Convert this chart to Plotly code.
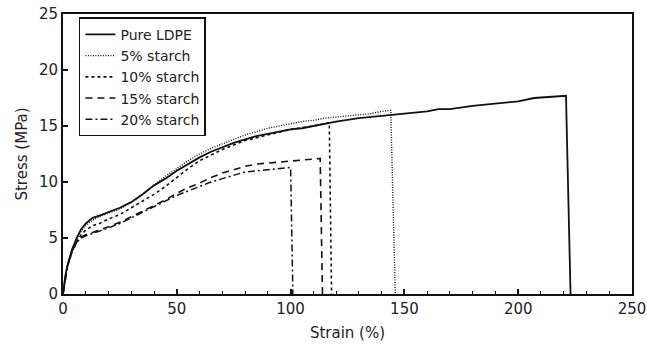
import plotly.graph_objects as go

# Pure LDPE
ldpe_x = [0, 1, 2, 4, 6, 8, 10, 13, 16, 20, 25, 30, 35, 40, 45, 50, 55, 60, 65, 70, 75, 80, 85, 90,
          95, 100, 105, 110, 115, 120, 130, 140, 150, 160, 165, 170, 180, 190, 200, 207, 214, 221, 223]
ldpe_y = [0, 1.6, 2.6, 4.0, 5.0, 5.8, 6.3, 6.8, 7.0, 7.3, 7.7, 8.2, 8.9, 9.7, 10.3, 11.0, 11.6, 12.2,
          12.7, 13.1, 13.5, 13.8, 14.1, 14.3, 14.5, 14.7, 14.8, 15.0, 15.2, 15.4, 15.7, 15.9, 16.1,
          16.3, 16.5, 16.5, 16.8, 17.0, 17.2, 17.5, 17.6, 17.7, 0]

# 5% starch
s5_x = [0, 1, 2, 4, 6, 8, 10, 13, 16, 20, 25, 30, 35, 40, 45, 50, 55, 60, 65, 70, 75, 80, 85, 90,
        95, 100, 105, 110, 115, 120, 125, 130, 135, 140, 144, 146]
s5_y = [0, 1.6, 2.6, 4.0, 4.9, 5.6, 6.1, 6.6, 6.9, 7.2, 7.6, 8.2, 8.9, 9.7, 10.5, 11.2, 11.9, 12.5,
        13.0, 13.4, 13.8, 14.2, 14.5, 14.8, 15.0, 15.2, 15.4, 15.5, 15.7, 15.8, 15.9, 16.0, 16.1,
        16.3, 16.4, 0]

# 10% starch
s10_x = [0, 1, 2, 4, 6, 8, 10, 13, 16, 20, 25, 30, 35, 40, 45, 50, 55, 60, 70, 80, 90, 100, 110, 117, 118]
s10_y = [0, 1.5, 2.5, 3.8, 4.7, 5.3, 5.7, 6.1, 6.3, 6.7, 7.1, 7.7, 8.3, 8.9, 9.6, 10.4, 11.2, 11.9,
         12.9, 13.7, 14.2, 14.7, 15.0, 15.3, 0]

# 15% starch
s15_x = [0, 1, 2, 4, 6, 8, 10, 13, 16, 20, 25, 30, 35, 40, 45, 50, 55, 60, 65, 70, 75, 80, 85, 90,
         95, 100, 105, 110, 113, 114]
s15_y = [0, 1.5, 2.5, 3.8, 4.6, 5.1, 5.3, 5.5, 5.7, 6.0, 6.4, 6.9, 7.4, 7.9, 8.4, 9.0, 9.5, 9.9,
         10.4, 10.8, 11.1, 11.4, 11.6, 11.7, 11.8, 11.9, 12.0, 12.1, 12.1, 0]

# 20% starch
s20_x = [0, 1, 2, 4, 6, 8, 10, 13, 16, 20, 25, 30, 35, 40, 45, 50, 55, 60, 65, 70, 75, 80, 85, 90,
         95, 100, 101]
s20_y = [0, 1.5, 2.5, 3.8, 4.6, 5.0, 5.2, 5.4, 5.6, 5.9, 6.3, 6.8, 7.3, 7.8, 8.3, 8.8, 9.2, 9.6,
         10.0, 10.3, 10.6, 10.9, 11.0, 11.1, 11.2, 11.3, 0]

series = [
    ("Pure LDPE", ldpe_x, ldpe_y, "solid", 1.8),
    ("5% starch", s5_x, s5_y, "1px,1.5px", 1.4),
    ("10% starch", s10_x, s10_y, "3px,3px", 1.6),
    ("15% starch", s15_x, s15_y, "7px,5px", 1.6),
    ("20% starch", s20_x, s20_y, "7px,3px,2px,3px", 1.5),
]

FONT = "DejaVu Sans"
fig = go.Figure()
for name, xs, ys, dash, w in series:
    fig.add_trace(go.Scatter(x=xs, y=ys, mode="lines", name=name,
                             line=dict(color="#111111", width=w, dash=dash)))

fig.update_layout(
    width=647, height=345,
    margin=dict(l=63, r=15, t=14, b=51),
    plot_bgcolor="white", paper_bgcolor="white",
    font=dict(family=FONT, size=15, color="#222222"),
    showlegend=True,
    legend=dict(x=0.028, y=0.988, xanchor="left", yanchor="top",
                bgcolor="white", bordercolor="#111111", borderwidth=1.5,
                font=dict(family=FONT, size=14, color="#222222"),
                tracegroupgap=0),
)
fig.update_xaxes(
    range=[0, 250], tickvals=[0, 50, 100, 150, 200, 250],
    ticks="inside", ticklen=5, tickwidth=1.5, tickcolor="#111111",
    minor=dict(dtick=10, ticks="inside", ticklen=3, tickwidth=1.2, tickcolor="#111111"),
    showline=True, linecolor="#111111", linewidth=2, mirror=True,
    showgrid=False, zeroline=False, automargin=False, ticklabeloverflow="allow",
    title=dict(text="Strain (%)", font=dict(family=FONT, size=15), standoff=10),
)
fig.update_yaxes(
    range=[0, 25], tickvals=[0, 5, 10, 15, 20, 25],
    ticks="inside", ticklen=5, tickwidth=1.5, tickcolor="#111111",
    showline=True, linecolor="#111111", linewidth=2, mirror=True,
    showgrid=False, zeroline=False, automargin=False, ticklabeloverflow="allow",
    title=dict(text="Stress (MPa)", font=dict(family=FONT, size=15), standoff=8),
)
fig.write_html("out.html")
